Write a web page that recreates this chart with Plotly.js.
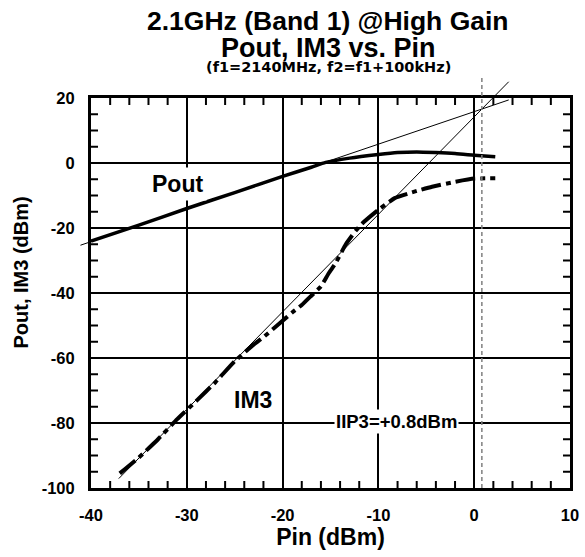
<!DOCTYPE html>
<html>
<head>
<meta charset="utf-8">
<script src="https://cdn.plot.ly/plotly-3.0.1.min.js"></script>
<style>html,body{margin:0;padding:0;background:#fff;}#chart{width:585px;height:557px;}</style>
</head>
<body>
<div id="chart"></div>
<script>
// ---- data ----
const pinPout = [-40, -35, -30, -25, -20, -17, -15.5, -13, -10, -8, -6, -4, -2, 0, 2.2];
const pout    = [-24, -19.1, -14, -9.1, -4.1, -1.3, 0.2, 1.5, 2.6, 3.2, 3.4, 3.2, 2.9, 2.4, 1.9];

const pinIm3 = [-37, -35, -33, -31, -29, -27, -25, -23, -22, -20.3, -19, -18, -17.1, -16, -15.2, -14.5, -13.4, -12.3, -11.5, -10, -8.3, -6, -4.4, -2, 0, 2.2];
const im3    = [-95.5, -90.6, -85, -78.8, -73.2, -67.4, -61, -55.8, -53.6, -49.3, -46, -43.7, -41.1, -38, -34, -31, -25, -20.6, -18.1, -14.4, -10.8, -8.6, -7.3, -5.8, -4.8, -4.7];

const iip3 = 0.8;          // dBm
const oip3 = 16.6;         // dBm
const poutFitPin = [-41.1, 3.6];
const im3FitPin  = [-37.1, 3.6];
const iip3MarkerTop = 26.2;

const xTicks = [-40, -30, -20, -10, 0, 10];
const yTicks = [-100, -80, -60, -40, -20, 0, 20];
const xMinorStep = 2;
const yMinorStep = 5;
const xRange = [-40, 10];
const yRange = [-100, 20];

// ---- helpers ----
const PH = 390, PW = 479;   // plot area size in px
const TICK = 7;             // minor tick length in px
const px = v => (v - xRange[0]) / (xRange[1] - xRange[0]);
const py = v => (v - yRange[0]) / (yRange[1] - yRange[0]);
const poutFit = p => oip3 + (p - iip3);
const im3Fit  = p => oip3 + 3 * (p - iip3);

const FONT = 'Liberation Sans, Arial, sans-serif';
const bold = (size) => ({family: FONT, size: size, color: '#000', weight: 'bold'});

// small inside tick marks on all four sides, built from the axis steps
const tx = [], ty = [];
const dyTick = TICK / PH * (yRange[1] - yRange[0]);
const dxTick = TICK / PW * (xRange[1] - xRange[0]);
for (let v = xRange[0] + xMinorStep; v < xRange[1]; v += xMinorStep) {
  if (xTicks.includes(v)) continue;
  tx.push(v, v, null, v, v, null);
  ty.push(yRange[0], yRange[0] + dyTick, null, yRange[1] - dyTick, yRange[1], null);
}
for (let v = yRange[0] + yMinorStep; v < yRange[1]; v += yMinorStep) {
  if (yTicks.includes(v)) continue;
  tx.push(xRange[0], xRange[0] + dxTick, null, xRange[1] - dxTick, xRange[1], null);
  ty.push(v, v, null, v, v, null);
}

const traces = [
  {x: tx, y: ty, type: 'scatter', mode: 'lines', connectgaps: false,
   line: {color: '#000', width: 2}, hoverinfo: 'skip'},
  {x: pinPout, y: pout, type: 'scatter', mode: 'lines',
   line: {color: '#000', width: 3.5, shape: 'spline', smoothing: 0.6}, hoverinfo: 'skip'},
  {x: pinIm3, y: im3, type: 'scatter', mode: 'lines',
   line: {color: '#000', width: 4, dash: '20px,5px,5px,5px', shape: 'spline', smoothing: 0.4}, hoverinfo: 'skip'}
];

const shapes = [
  // Pout extrapolation (slope 1)
  {type: 'line', xref: 'paper', yref: 'y',
   x0: px(poutFitPin[0]), y0: poutFit(poutFitPin[0]),
   x1: px(poutFitPin[1]), y1: poutFit(poutFitPin[1]),
   line: {color: '#000', width: 1}},
  // IM3 extrapolation (slope 3)
  {type: 'line', xref: 'x', yref: 'paper',
   x0: im3FitPin[0], y0: py(im3Fit(im3FitPin[0])),
   x1: im3FitPin[1], y1: py(im3Fit(im3FitPin[1])),
   line: {color: '#000', width: 1}},
  // IIP3 marker
  {type: 'line', xref: 'x', yref: 'paper',
   x0: iip3, y0: 0, x1: iip3, y1: py(iip3MarkerTop),
   line: {color: '#808080', width: 1.5, dash: '4px,3px'}}
];

const annotations = [
  {text: '2.1GHz (Band 1) @High Gain', xref: 'paper', yref: 'paper', x: 0.495, y: 1 + 77/PH,
   showarrow: false, font: bold(26.5), xanchor: 'center', yanchor: 'middle'},
  {text: 'Pout, IM3 vs. Pin', xref: 'paper', yref: 'paper', x: 0.495, y: 1 + 50/PH,
   showarrow: false, font: bold(27), xanchor: 'center', yanchor: 'middle'},
  {text: '(f1=2140MHz, f2=f1+100kHz)', xref: 'paper', yref: 'paper', x: 0.495, y: 1 + 31/PH,
   showarrow: false, font: {family: 'DejaVu Sans', size: 14.5, weight: 'bold', color: '#000'},
   xanchor: 'center', yanchor: 'middle'},
  {text: 'Pout, IM3 (dBm)', xref: 'paper', yref: 'paper', x: (20 - 91)/PW, y: (488 - 272.5)/PH,
   textangle: -90, showarrow: false, font: bold(20), xanchor: 'center', yanchor: 'middle'},
  {text: 'Pout', x: -31, y: -6.4, showarrow: false, font: bold(23),
   bgcolor: '#fff', borderpad: 3},
  {text: 'IM3', x: -23.1, y: -72.9, showarrow: false, font: bold(23),
   bgcolor: '#fff', borderpad: 3},
  {text: 'IIP3=+0.8dBm', x: -8.1, y: -79.6, showarrow: false, font: bold(18.5),
   bgcolor: '#fff', borderpad: 1}
];

const axisCommon = {
  showgrid: true, gridcolor: '#000', gridwidth: 2,
  showline: true, linecolor: '#000', linewidth: 3, mirror: true,
  ticks: '', zeroline: false, tickfont: bold(16.5), fixedrange: true
};

const layout = {
  width: 585, height: 557,
  margin: {l: 91, r: 15, t: 98, b: 69, pad: 0},
  paper_bgcolor: '#fff', plot_bgcolor: '#fff',
  showlegend: false,
  xaxis: Object.assign({}, axisCommon, {
    range: xRange, tickmode: 'array', tickvals: xTicks, ticktext: xTicks.map(String),
    ticklabelstandoff: 10,
    title: {text: 'Pin (dBm)', font: bold(23), standoff: 6}
  }),
  yaxis: Object.assign({}, axisCommon, {
    range: yRange, tickmode: 'array', tickvals: yTicks, ticktext: yTicks.map(String),
    ticklabelstandoff: 10
  }),
  shapes: shapes,
  annotations: annotations
};

Plotly.newPlot('chart', traces, layout, {staticPlot: true, displayModeBar: false});
</script>
</body>
</html>
